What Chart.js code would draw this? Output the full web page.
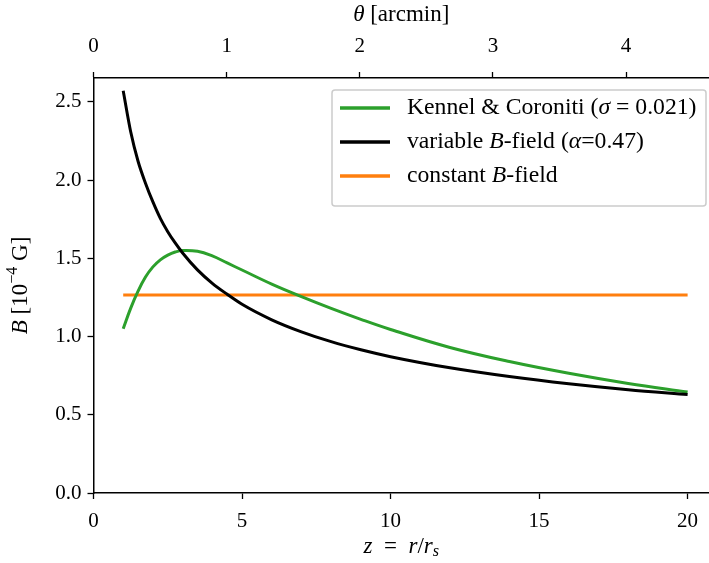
<!DOCTYPE html>
<html>
<head>
<meta charset="utf-8">
<script src="https://cdn.jsdelivr.net/npm/chart.js@4"></script>
<style>
  html, body { margin: 0; padding: 0; background: #fff; }
  #wrap { width: 709px; height: 563px; }
</style>
</head>
<body>
<div id="wrap"><canvas id="bChart" width="709" height="563"></canvas></div>
<script>
// --- data ---
const zVals = [1, 1.25, 1.5, 1.75, 2, 2.25, 2.5, 2.75, 3, 3.5, 4, 4.5, 5, 6, 7, 8, 9, 10, 12, 14, 16, 18, 20];
const kennelVals = [1.05, 1.18, 1.29, 1.38, 1.445, 1.49, 1.52, 1.54, 1.55, 1.545, 1.515, 1.47, 1.425, 1.335, 1.255, 1.18, 1.11, 1.045, 0.93, 0.84, 0.765, 0.70, 0.645];
const variableVals = [2.57, 2.31, 2.12, 1.98, 1.86, 1.755, 1.67, 1.598, 1.534, 1.426, 1.34, 1.27, 1.206, 1.107, 1.03, 0.967, 0.915, 0.871, 0.80, 0.744, 0.698, 0.66, 0.63];
const constVals = [1.265, 1.265];
const constZ = [1, 20];

const zTicks = [0, 5, 10, 15, 20];
const thetaTicks = [0, 1, 2, 3, 4];
const bTicks = [0, 0.5, 1.0, 1.5, 2.0, 2.5];

const zMax = 20.72;
const thetaPerZ = 0.2231;
const bMax = 2.652;

const FONT = '"Liberation Serif", "DejaVu Serif", serif';

const pts = (xs, ys) => xs.map((x, i) => ({ x: x, y: ys[i] }));

// rich text: [{t, it, sup, sub}]
function segFont(s, size) {
  const sz = (s.sup || s.sub) ? size * 0.7 : size;
  return (s.it ? 'italic ' : '') + sz + 'px ' + FONT;
}
function richWidth(ctx, segs, size) {
  let w = 0;
  segs.forEach(s => { ctx.font = segFont(s, size); w += ctx.measureText(s.t).width; });
  return w;
}
function drawRich(ctx, segs, x, y, size, align) {
  ctx.save();
  ctx.textBaseline = 'middle';
  ctx.textAlign = 'left';
  ctx.fillStyle = '#000';
  let cx = align === 'center' ? x - richWidth(ctx, segs, size) / 2 : x;
  segs.forEach(s => {
    ctx.font = segFont(s, size);
    let dy = 0;
    if (s.sup) dy = -size * 0.35;
    if (s.sub) dy = size * 0.22;
    ctx.fillText(s.t, cx, y + dy);
    cx += ctx.measureText(s.t).width;
  });
  ctx.restore();
}

const legendItems = [
  { color: '#2ca02c', segs: [{ t: 'Kennel & Coroniti (' }, { t: 'σ', it: true }, { t: ' = 0.021)' }] },
  { color: '#000000', segs: [{ t: 'variable ' }, { t: 'B', it: true }, { t: '-field (' }, { t: 'α', it: true }, { t: '=0.47)' }] },
  { color: '#ff7f0e', segs: [{ t: 'constant ' }, { t: 'B', it: true }, { t: '-field' }] }
];

const decorPlugin = {
  id: 'decor',
  afterDraw(chart) {
    const ctx = chart.ctx;
    const ca = chart.chartArea;
    const midX = (ca.left + ca.right) / 2;
    const midY = (ca.top + ca.bottom) / 2;

    // axis titles
    drawRich(ctx, [{ t: 'θ', it: true }, { t: ' [arcmin]' }], midX, 15, 23, 'center');
    drawRich(ctx, [{ t: 'z', it: true }, { t: '\u2002=\u2002' }, { t: 'r', it: true }, { t: '/' }, { t: 'r', it: true }, { t: 's', it: true, sub: true }], midX, 547, 23, 'center');
    ctx.save();
    ctx.translate(21, midY);
    ctx.rotate(-Math.PI / 2);
    drawRich(ctx, [{ t: 'B', it: true }, { t: ' [10' }, { t: '−4', sup: true }, { t: ' G]' }], 0, 0, 23, 'center');
    ctx.restore();

    // legend
    ctx.save();
    ctx.fillStyle = 'rgba(255,255,255,0.8)';
    ctx.strokeStyle = '#cccccc';
    ctx.lineWidth = 1.5;
    ctx.beginPath();
    ctx.roundRect(332, 90, 374, 116, 3);
    ctx.fill();
    ctx.stroke();
    legendItems.forEach((it, i) => {
      const y = 108 + i * 34;
      ctx.strokeStyle = it.color;
      ctx.lineWidth = 3.5;
      ctx.beginPath();
      ctx.moveTo(340, y);
      ctx.lineTo(390, y);
      ctx.stroke();
      drawRich(ctx, it.segs, 407, y, 23.7, 'left');
    });
    ctx.restore();
  }
};

const tickFont = { family: FONT, size: 21 };
const axisGrid = { drawOnChartArea: false, color: '#000', tickLength: 6, tickWidth: 1.3 };
const axisBorder = { color: '#000', width: 1.5 };

new Chart(document.getElementById('bChart'), {
  type: 'line',
  data: {
    datasets: [
      { label: 'constant B-field', data: pts(constZ, constVals), borderColor: '#ff7f0e', borderWidth: 3, pointRadius: 0, order: 3 },
      { label: 'Kennel & Coroniti', data: pts(zVals, kennelVals), borderColor: '#2ca02c', borderWidth: 3, pointRadius: 0, tension: 0.4, order: 2 },
      { label: 'variable B-field', data: pts(zVals, variableVals), borderColor: '#000000', borderWidth: 3, pointRadius: 0, cubicInterpolationMode: 'monotone', order: 1 }
    ]
  },
  options: {
    responsive: false,
    animation: false,
    layout: { padding: 0 },
    plugins: { legend: { display: false }, tooltip: { enabled: false } },
    scales: {
      x: {
        type: 'linear', position: 'bottom', min: 0, max: zMax,
        afterBuildTicks: s => { s.ticks = zTicks.map(v => ({ value: v })); },
        afterFit: s => { s.height = 70; },
        ticks: { color: '#000', font: tickFont, padding: 10, maxRotation: 0 },
        grid: axisGrid, border: axisBorder
      },
      x2: {
        type: 'linear', position: 'top', min: 0, max: zMax * thetaPerZ,
        afterBuildTicks: s => { s.ticks = thetaTicks.map(v => ({ value: v })); },
        afterFit: s => { s.height = 78; },
        ticks: { color: '#000', font: tickFont, padding: 13, maxRotation: 0 },
        grid: axisGrid, border: axisBorder
      },
      y: {
        type: 'linear', min: 0, max: bMax,
        afterBuildTicks: s => { s.ticks = bTicks.map(v => ({ value: v })); },
        afterFit: s => { s.width = 93.5; },
        ticks: { color: '#000', font: tickFont, padding: 6, callback: v => v.toFixed(1) },
        grid: axisGrid, border: axisBorder
      }
    }
  },
  plugins: [decorPlugin]
});
</script>
</body>
</html>
